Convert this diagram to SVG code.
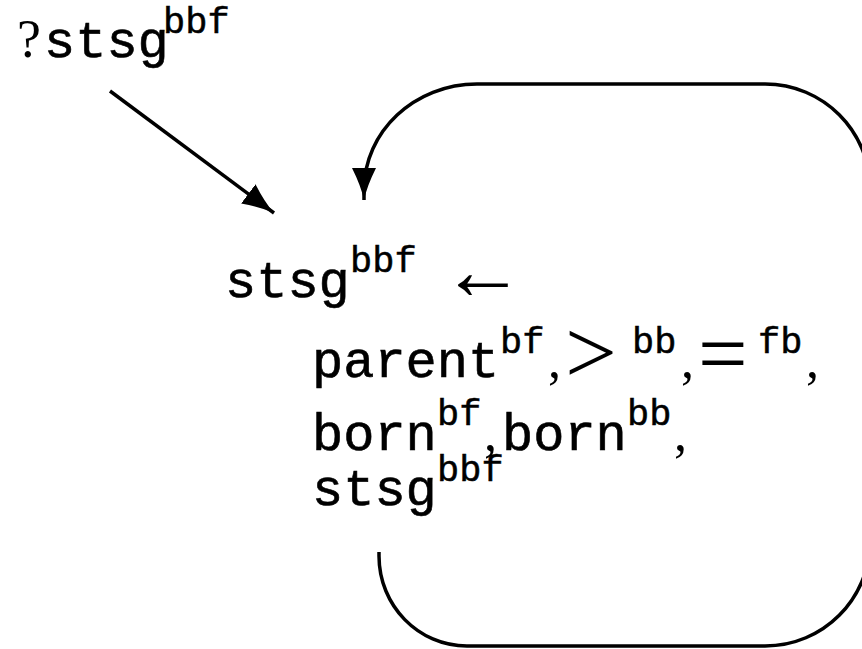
<svg xmlns="http://www.w3.org/2000/svg" width="862" height="649" viewBox="0 0 862 649">
<style>
.tt{font-family:"Liberation Mono","DejaVu Sans Mono",monospace;font-size:52px;fill:#000;stroke:#000;stroke-width:0.6}
.sup{font-family:"Liberation Mono","DejaVu Sans Mono",monospace;font-size:37px;fill:#000;stroke:#000;stroke-width:0.5}
.rm{font-family:"Liberation Serif","DejaVu Serif",serif;font-size:52px;fill:#000}
.sym{font-family:"Liberation Serif","DejaVu Serif",serif;font-size:88px;fill:#000}
.edge{fill:none;stroke:#000;stroke-width:3.5}
</style>
<defs>
<marker id="ah" markerUnits="userSpaceOnUse" viewBox="-32 -13 34 26" refX="0" refY="0" markerWidth="34" markerHeight="26" orient="auto">
<path d="M-32,-12 Q-14,-3 0,0 Q-14,3 -32,12 Z" fill="#000"/>
</marker>
</defs>
<g id="connectors">
<path class="edge" d="M110,91 L274,213" marker-end="url(#ah)"/>
<path class="edge" d="M379,552 L379,556 C379,605.7 418.4,646 467,646 L765,646 C823,646 870,599 870,541 L870,189 C870,131 823,84 765,84 L477,84 C414.6,84 364,131.5 364,190 L364,200" marker-end="url(#ah)"/>
</g>
<g id="query">
<text class="rm" x="17" y="57" style="font-size:54px">?</text>
<text class="tt" x="44" y="57">stsg</text>
<text class="sup" x="163" y="33">bbf</text>
</g>
<g id="rule">
<text class="tt" x="225" y="297">stsg</text>
<text class="sup" x="350" y="272">bbf</text>
<text class="sym" x="441" y="299" style="font-size:84px">←</text>
<text class="tt" x="312" y="377">parent</text>
<text class="sup" x="500" y="353">bf</text>
<text class="rm" x="548" y="377">,</text>
<text class="sym" x="565" y="383" style="font-size:92px">&gt;</text>
<text class="sup" x="632" y="353">bb</text>
<text class="rm" x="681" y="377">,</text>
<text class="sym" x="698" y="383">=</text>
<text class="sup" x="758" y="353">fb</text>
<text class="rm" x="806" y="377">,</text>
<text class="tt" x="312" y="450">born</text>
<text class="sup" x="437" y="425">bf</text>
<text class="rm" x="484" y="450">,</text>
<text class="tt" x="502" y="450">born</text>
<text class="sup" x="627" y="425">bb</text>
<text class="rm" x="674" y="450">,</text>
<text class="tt" x="312" y="505">stsg</text>
<text class="sup" x="437" y="481">bbf</text>
</g>
</svg>
